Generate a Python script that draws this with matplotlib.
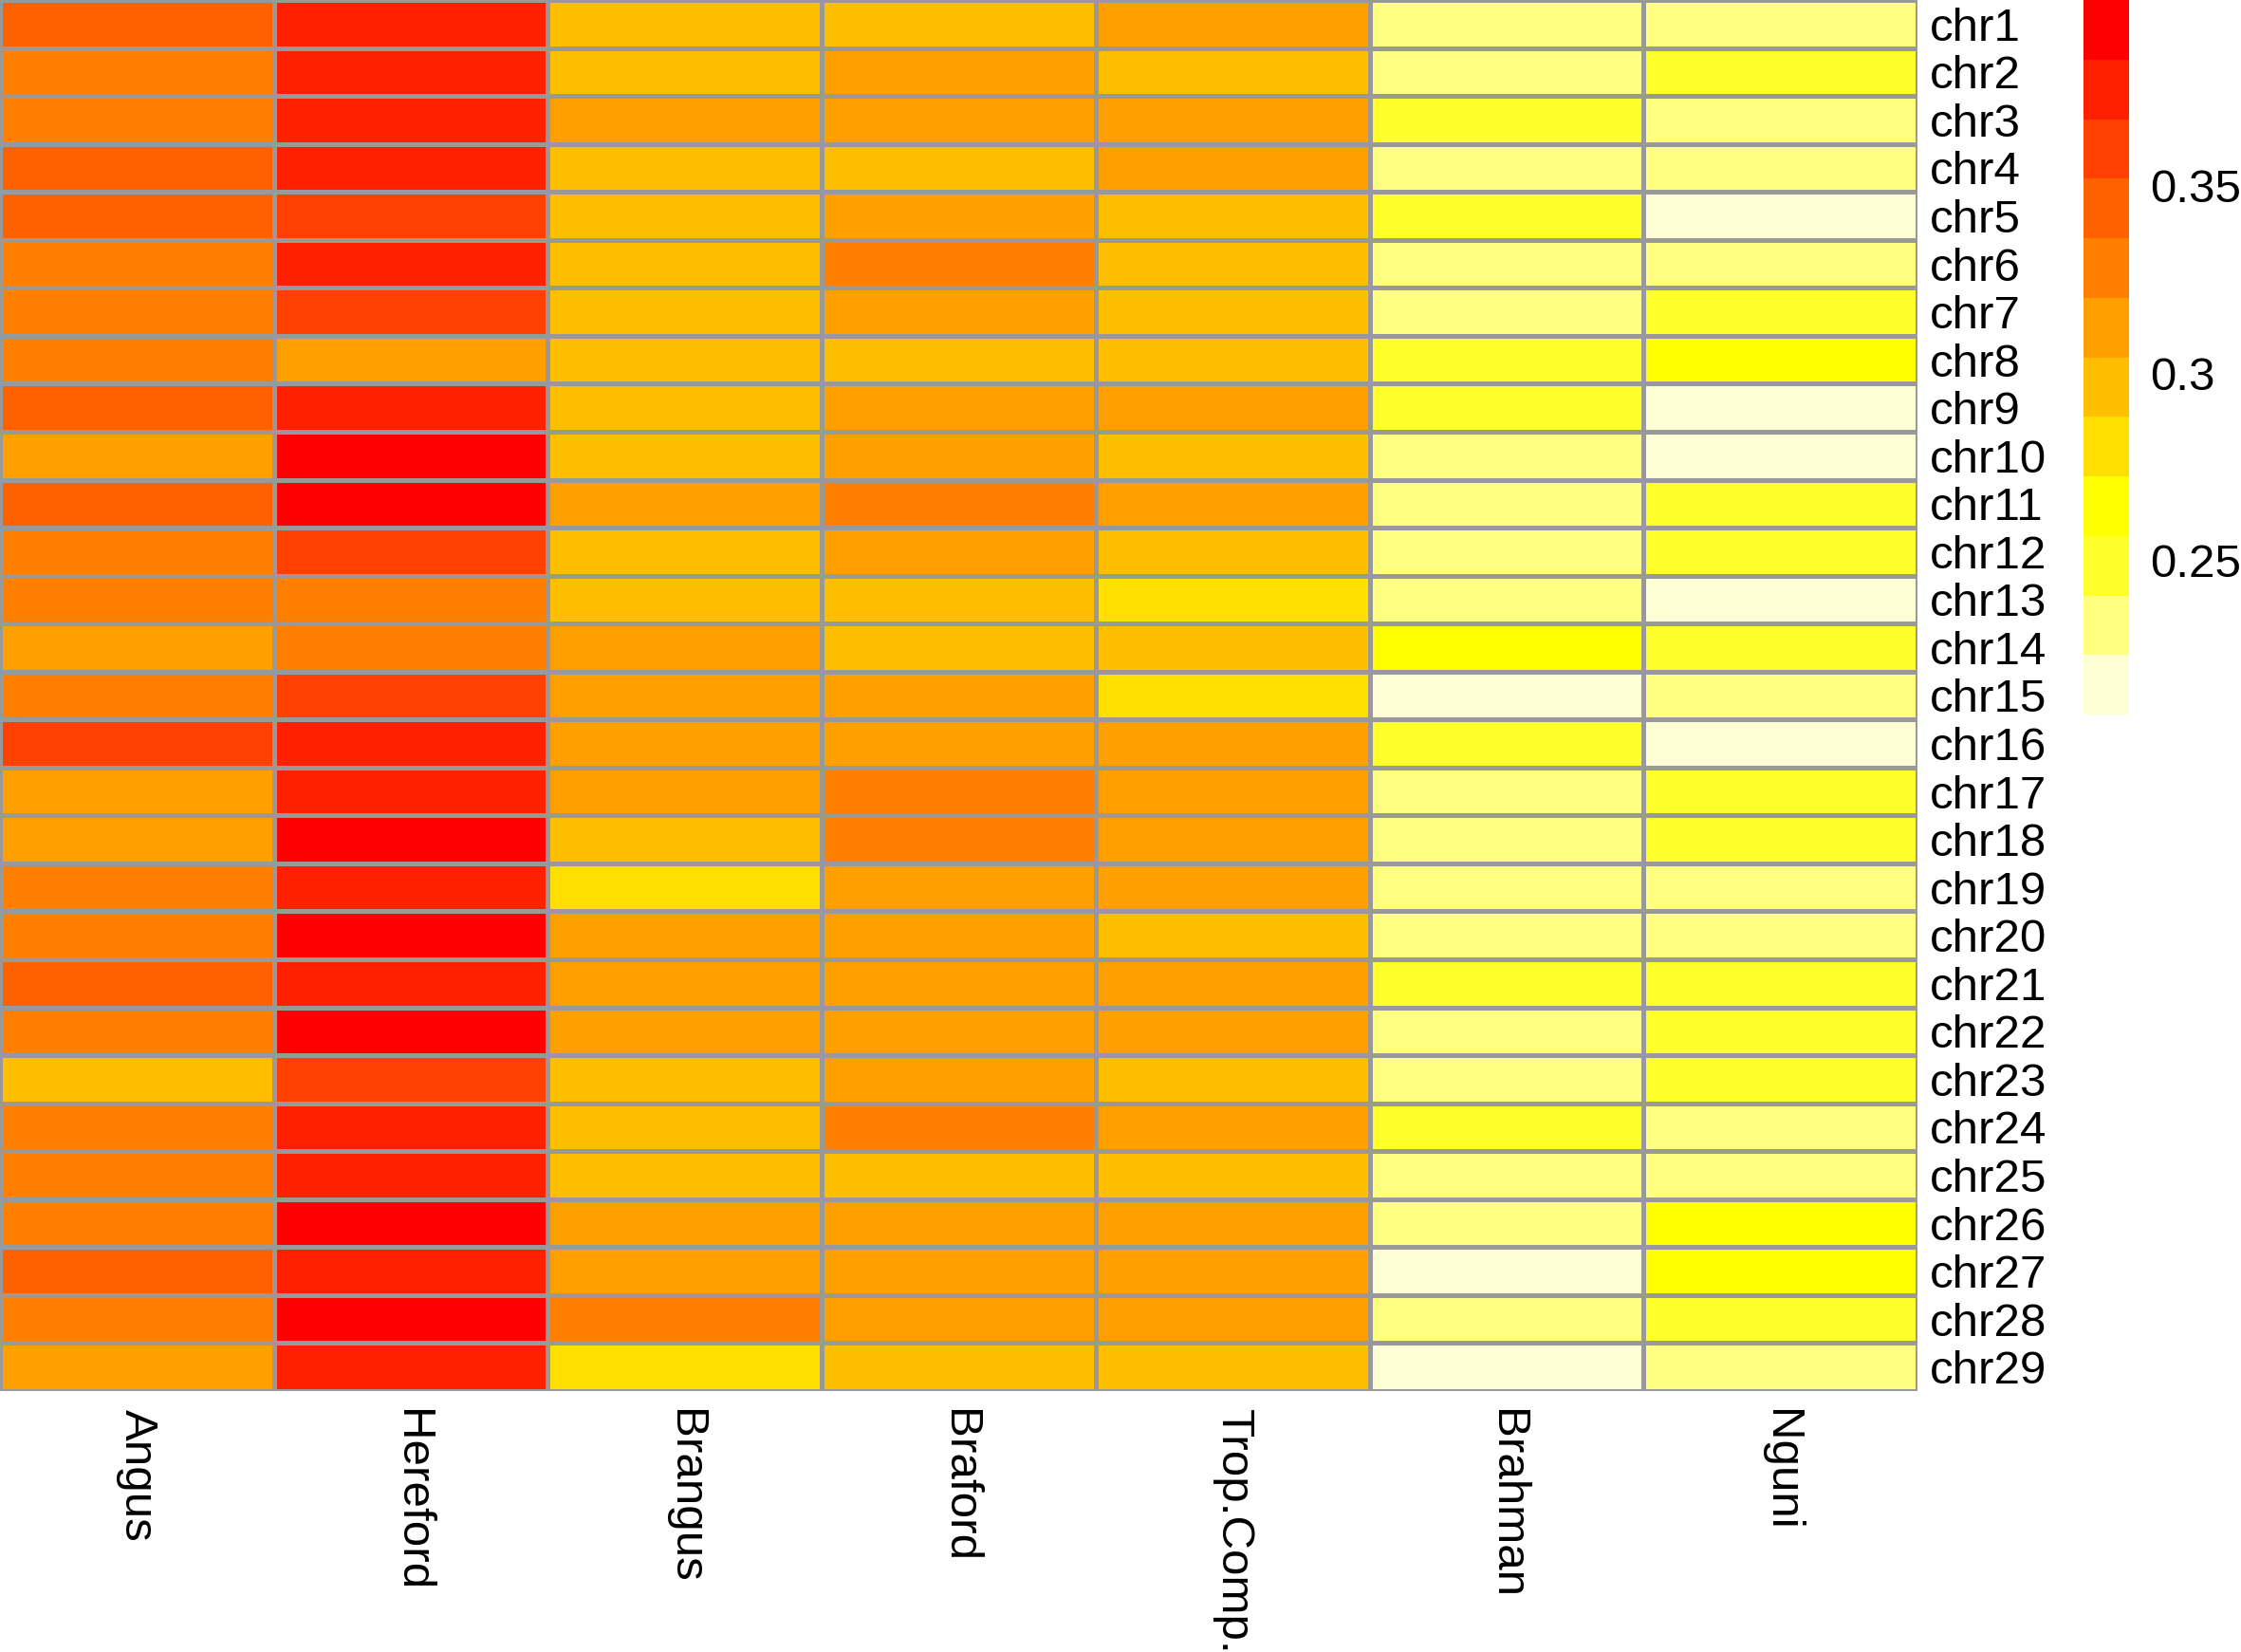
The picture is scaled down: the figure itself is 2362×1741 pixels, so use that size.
import numpy as np
import matplotlib
matplotlib.use("Agg")
import matplotlib.pyplot as plt
from matplotlib.colors import ListedColormap, BoundaryNorm

plt.rcParams['font.family'] = ['Liberation Sans', 'DejaVu Sans']

breeds = ["Angus", "Hereford", "Brangus", "Braford", "Trop.Comp.", "Brahman", "Nguni"]
chroms = ["chr%d" % i for i in range(1, 30)]

# values per breed, chr1..chr29
angus    = [0.344, 0.328, 0.328, 0.344, 0.344, 0.328, 0.328, 0.328, 0.344, 0.312,
            0.344, 0.328, 0.328, 0.312, 0.328, 0.360, 0.312, 0.312, 0.328, 0.328,
            0.344, 0.328, 0.296, 0.328, 0.328, 0.328, 0.344, 0.328, 0.312]
hereford = [0.376, 0.376, 0.376, 0.376, 0.360, 0.376, 0.360, 0.312, 0.376, 0.392,
            0.392, 0.360, 0.328, 0.328, 0.360, 0.376, 0.376, 0.392, 0.376, 0.392,
            0.376, 0.392, 0.360, 0.376, 0.376, 0.392, 0.376, 0.392, 0.376]
brangus  = [0.296, 0.296, 0.312, 0.296, 0.296, 0.296, 0.296, 0.296, 0.296, 0.296,
            0.312, 0.296, 0.296, 0.312, 0.312, 0.312, 0.312, 0.296, 0.280, 0.312,
            0.312, 0.312, 0.296, 0.296, 0.296, 0.312, 0.312, 0.328, 0.280]
braford  = [0.296, 0.312, 0.312, 0.296, 0.312, 0.328, 0.312, 0.296, 0.312, 0.312,
            0.328, 0.312, 0.296, 0.296, 0.312, 0.312, 0.328, 0.328, 0.312, 0.312,
            0.312, 0.312, 0.312, 0.328, 0.296, 0.312, 0.312, 0.312, 0.296]
tropcomp = [0.312, 0.296, 0.312, 0.312, 0.296, 0.296, 0.296, 0.296, 0.312, 0.296,
            0.312, 0.296, 0.280, 0.296, 0.280, 0.312, 0.312, 0.312, 0.312, 0.296,
            0.312, 0.312, 0.296, 0.312, 0.296, 0.312, 0.312, 0.312, 0.296]
brahman  = [0.233, 0.233, 0.249, 0.233, 0.249, 0.233, 0.233, 0.249, 0.249, 0.233,
            0.233, 0.233, 0.233, 0.265, 0.217, 0.249, 0.233, 0.233, 0.233, 0.233,
            0.249, 0.233, 0.233, 0.249, 0.233, 0.233, 0.217, 0.233, 0.217]
nguni    = [0.233, 0.249, 0.233, 0.233, 0.217, 0.233, 0.249, 0.265, 0.217, 0.217,
            0.249, 0.249, 0.217, 0.249, 0.233, 0.217, 0.249, 0.249, 0.233, 0.233,
            0.249, 0.249, 0.249, 0.233, 0.233, 0.265, 0.265, 0.249, 0.233]

scale_min, scale_max = 0.2088, 0.3996
bar_ticks = [0.25, 0.3, 0.35]

# R heat.colors(12), light to dark
heat = ["#FFFFD5", "#FFFF80", "#FFFF2A", "#FFFF00", "#FFDF00", "#FFBF00",
        "#FF9F00", "#FF8000", "#FF6000", "#FF4000", "#FF2000", "#FF0000"]

data = np.array([angus, hereford, brangus, braford, tropcomp, brahman, nguni]).T

cmap = ListedColormap(heat)
bounds = np.linspace(scale_min, scale_max, len(heat) + 1)
norm = BoundaryNorm(bounds, cmap.N)

fig = plt.figure(figsize=(23.62, 17.41), dpi=100)
ax = fig.add_axes([0.0, 1 - 1466 / 1741, 2021 / 2362, 1466 / 1741])

mesh = ax.pcolormesh(np.arange(len(breeds) + 1), np.arange(len(chroms) + 1), data,
                     cmap=cmap, norm=norm, edgecolors="#999999", linewidth=2.2)
ax.set_xlim(0, len(breeds))
ax.set_ylim(len(chroms), 0)
ax.set_xticks(np.arange(len(breeds)) + 0.5)
ax.set_xticklabels(breeds, rotation=-90, va="top", ha="center", fontsize=35.5)
ax.set_yticks(np.arange(len(chroms)) + 0.5)
ax.set_yticklabels(chroms, fontsize=35.5)
ax.yaxis.tick_right()
ax.tick_params(axis="both", length=0)
ax.tick_params(axis="x", pad=14)
ax.tick_params(axis="y", pad=9)
for s in ax.spines.values():
    s.set_visible(False)

cax = fig.add_axes([2196 / 2362, 1 - 753 / 1741, 48 / 2362, 753 / 1741])
cb = fig.colorbar(mesh, cax=cax, ticks=bar_ticks, spacing="proportional")
cb.outline.set_visible(False)
cb.minorticks_off()
cb.ax.set_yticklabels(["0.25", "0.3", "0.35"])
cb.ax.tick_params(which="both", length=0, labelsize=35.5, pad=16)

fig.savefig("out.png", dpi=100)
